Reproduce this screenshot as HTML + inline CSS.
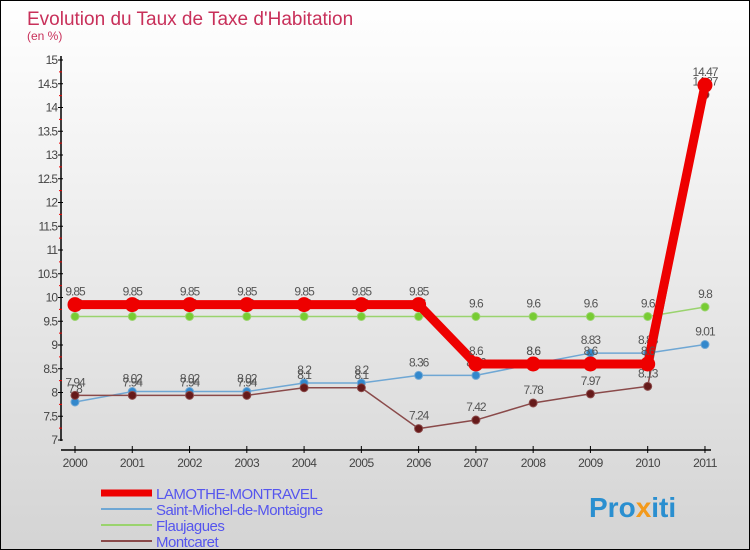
<!DOCTYPE html>
<html><head><meta charset="utf-8"><style>
body{margin:0}
#c{width:748px;height:548px;border:1px solid #000;background:linear-gradient(#fff,#d4d4d4);position:relative;font-family:"Liberation Sans",sans-serif;overflow:hidden}
</style></head><body>
<div id="c">
<svg id="s" width="748" height="548" xmlns="http://www.w3.org/2000/svg" font-family="Liberation Sans, sans-serif">
<text x="26" y="24" font-size="19" fill="#c8305a">Evolution du Taux de Taxe d'Habitation</text>
<text x="26" y="39" font-size="12" fill="#c8305a">(en %)</text>
<text x="588" y="516" font-size="28" font-weight="bold" fill="#2a8fd0">Pro<tspan fill="#f39a1c">x</tspan>iti</text>
</svg>
</div>
<script>
const years=["2000","2001","2002","2003","2004","2005","2006","2007","2008","2009","2010","2011"];
const yTicks=[7,7.5,8,8.5,9,9.5,10,10.5,11,11.5,12,12.5,13,13.5,14,14.5,15];
const lamothe=[9.85,9.85,9.85,9.85,9.85,9.85,9.85,8.6,8.6,8.6,8.6,14.47];
const stMichel=[7.8,8.02,8.02,8.02,8.2,8.2,8.36,8.36,8.6,8.83,8.83,9.01];
const flaujagues=[9.6,9.6,9.6,9.6,9.6,9.6,9.6,9.6,9.6,9.6,9.6,9.8];
const montcaret=[7.94,7.94,7.94,7.94,8.1,8.1,7.24,7.42,7.78,7.97,8.13,14.27];
const NS="http://www.w3.org/2000/svg",s=document.getElementById('s');
const X=i=>74+i*57.27, Y=v=>439-(v-7)*47.5;
function el(t,a,p){const e=document.createElementNS(NS,t);for(const k in a)e.setAttribute(k,a[k]);(p||s).appendChild(e);return e;}
const ax=el('g',{});
el('line',{x1:60,y1:55,x2:60,y2:440,stroke:'#000','stroke-width':1.5},ax);
el('line',{x1:60,y1:449,x2:710,y2:449,stroke:'#000','stroke-width':1.5},ax);
yTicks.forEach(v=>{el('line',{x1:57,y1:Y(v),x2:62,y2:Y(v),stroke:'#000'},ax);
 if(v<15)el('line',{x1:58,y1:Y(v+0.25),x2:61,y2:Y(v+0.25),stroke:'#e00'},ax);
 const t=el('text',{x:56,y:Y(v)+4,'text-anchor':'end','font-size':12,fill:'#444','letter-spacing':'-1'},ax);t.textContent=v;});
years.forEach((y,i)=>{el('line',{x1:X(i),y1:445,x2:X(i),y2:452,stroke:'#000'},ax);
 const t=el('text',{x:X(i),y:466,'text-anchor':'middle','font-size':12,fill:'#444','letter-spacing':'-0.5'},ax);t.textContent=y;});
function series(name,d,col,w,r,dot,label){const g=el('g',{});
 el('polyline',{points:d.map((v,i)=>X(i)+','+Y(v)).join(' '),fill:'none',stroke:col,'stroke-width':w,'stroke-linejoin':'round'},g);
 d.forEach((v,i)=>{const c=el('circle',{cx:X(i),cy:Y(v),r:r,fill:dot,stroke:col,'stroke-width':1},g);
  if(label){const t=el('text',{x:X(i),y:Y(v)-9,'text-anchor':'middle','font-size':12,fill:'#555','letter-spacing':'-1'},g);t.textContent=v;}});}
series('flaujagues-line',flaujagues,'#9ad36e',1.5,4,'#77cc33',true);
series('saint-michel-line',stMichel,'#6fa7d4',1.5,4,'#3388cc',true);
series('montcaret-line',montcaret,'#8a4a4a',1.5,4,'#661a1a',true);
series('lamothe-line',lamothe,'#ee0000',9,7,'#ee0000',true);
const leg=[['LAMOTHE-MONTRAVEL','#ee0000',7],['Saint-Michel-de-Montaigne','#6fa7d4',2],['Flaujagues','#9ad36e',2],['Montcaret','#8a4a4a',2]];
leg.forEach((l,i)=>{const g=el('g',{});
 const y=492+i*16;el('line',{x1:100,y1:y,x2:151,y2:y,stroke:l[1],'stroke-width':l[2]},g);
 const t=el('text',{x:155,y:y+6,'font-size':15,fill:'#5555ee','letter-spacing':'-0.5'},g);t.textContent=l[0];});
</script>
</body></html>
